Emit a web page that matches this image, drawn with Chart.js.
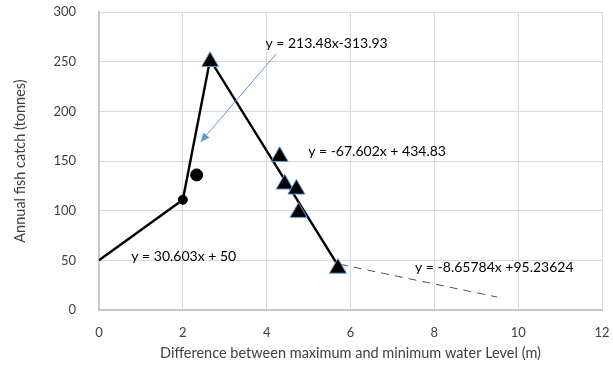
<!DOCTYPE html>
<html>
<head>
<meta charset="utf-8">
<script src="https://cdn.jsdelivr.net/npm/chart.js@4/dist/chart.umd.min.js"></script>
<style>
    html, body { margin: 0; padding: 0; background: #fff; }
    #wrap { width: 613px; height: 374px; }
</style>
</head>
<body>
<div id="wrap"><canvas id="chart" width="613" height="374"></canvas></div>
<script>
// values
const lineX = [0, 2, 2.65, 5.7];
const lineY = [50, 111, 252, 45];
const triX = [2.65, 4.31, 4.43, 4.71, 4.76, 5.7];
const triY = [250, 154.5, 126.7, 121.6, 98.2, 42];
const smallDotX = [2];
const smallDotY = [111];
const bigDotX = [2.33];
const bigDotY = [136];
const dashX = [5.75, 9.5];
const dashY = [46, 13];
const arrowX = [4.23, 2.42];
const arrowY = [258, 169];

const eqTexts = ['y = 213.48x-313.93', 'y = -67.602x + 434.83', 'y = 30.603x + 50', 'y = -8.65784x +95.23624'];
const eqX = [3.97, 4.99, 0.77, 7.54];
const eqY = [268, 160, 54, 43];

const xTicks = [0, 2, 4, 6, 8, 10, 12];
const yTicks = [0, 50, 100, 150, 200, 250, 300];

const FONT = 'Lato, "Open Sans", sans-serif';

function pts(xs, ys) {
    return xs.map((x, i) => ({ x: x, y: ys[i] }));
}

// tick padding would otherwise push the plot area in
function noPad(s) {
    s.paddingTop = 0;
    s.paddingBottom = 0;
    s.paddingLeft = 0;
    s.paddingRight = 0;
}

// arrow and equation labels, placed through the chart scales
const extras = {
    id: 'extras',
    afterDatasetsDraw(chart) {
        const ctx = chart.ctx;
        const xs = chart.scales.x, ys = chart.scales.y;
        const x1 = xs.getPixelForValue(arrowX[0]), y1 = ys.getPixelForValue(arrowY[0]);
        const x2 = xs.getPixelForValue(arrowX[1]), y2 = ys.getPixelForValue(arrowY[1]);
        const ang = Math.atan2(y2 - y1, x2 - x1);
        ctx.save();
        ctx.strokeStyle = '#5B9BD5';
        ctx.fillStyle = '#5B9BD5';
        ctx.lineWidth = 1;
        ctx.beginPath();
        ctx.moveTo(x1, y1);
        ctx.lineTo(x2 - 6 * Math.cos(ang), y2 - 6 * Math.sin(ang));
        ctx.stroke();
        ctx.beginPath();
        ctx.moveTo(x2, y2);
        ctx.lineTo(x2 - 10 * Math.cos(ang - 0.4), y2 - 10 * Math.sin(ang - 0.4));
        ctx.lineTo(x2 - 10 * Math.cos(ang + 0.4), y2 - 10 * Math.sin(ang + 0.4));
        ctx.closePath();
        ctx.fill();

        ctx.fillStyle = '#000';
        ctx.font = '14px ' + FONT;
        ctx.textAlign = 'left';
        ctx.textBaseline = 'middle';
        eqTexts.forEach((t, i) => {
            ctx.fillText(t, xs.getPixelForValue(eqX[i]), ys.getPixelForValue(eqY[i]));
        });
        ctx.restore();
    }
};

new Chart(document.getElementById('chart'), {
    type: 'scatter',
    data: {
        datasets: [
            {
                data: pts(triX, triY),
                pointStyle: 'triangle',
                pointRadius: 9.8,
                backgroundColor: '#000',
                borderColor: '#5B9BD5',
                borderWidth: 1,
                order: 1
            },
            {
                data: pts(bigDotX, bigDotY),
                pointRadius: 6,
                backgroundColor: '#000',
                borderColor: '#000',
                order: 1
            },
            {
                data: pts(smallDotX, smallDotY),
                pointRadius: 4.5,
                backgroundColor: '#000',
                borderColor: '#000',
                order: 1
            },
            {
                data: pts(lineX, lineY),
                showLine: true,
                borderColor: '#000',
                borderWidth: 2.4,
                pointRadius: 0,
                order: 3
            },
            {
                data: pts(dashX, dashY),
                showLine: true,
                borderColor: '#44546A',
                borderWidth: 1,
                borderDash: [8, 6],
                pointRadius: 0,
                order: 3
            }
        ]
    },
    options: {
        responsive: false,
        animation: false,
        layout: { autoPadding: false, padding: { left: 0, right: 11, top: 12, bottom: 0 } },
        plugins: {
            legend: { display: false },
            tooltip: { enabled: false }
        },
        scales: {
            x: {
                type: 'linear',
                min: 0,
                max: 12,
                afterBuildTicks: s => { s.ticks = xTicks.map(v => ({ value: v })); },
                afterFit: s => { s.height = 64; noPad(s); },
                ticks: { color: '#404040', font: { family: FONT, size: 13 }, padding: 15 },
                grid: { color: '#D9D9D9', drawTicks: false },
                border: { color: '#C8C8C8', width: 2 },
                title: {
                    display: true,
                    text: 'Difference between maximum and minimum water Level (m)',
                    color: '#404040',
                    font: { family: FONT, size: 14.5 },
                    padding: { top: 0, bottom: 12 }
                }
            },
            y: {
                type: 'linear',
                min: 0,
                max: 300,
                afterBuildTicks: s => { s.ticks = yTicks.map(v => ({ value: v })); },
                afterFit: s => { s.width = 99; noPad(s); },
                ticks: { color: '#404040', font: { family: FONT, size: 13 }, padding: 23 },
                grid: { color: '#D9D9D9', drawTicks: false },
                border: { color: '#C8C8C8', width: 2 },
                title: {
                    display: true,
                    text: 'Annual fish catch (tonnes)',
                    color: '#404040',
                    font: { family: FONT, size: 14.5 },
                    padding: { top: 12, bottom: 0 }
                }
            }
        }
    },
    plugins: [extras]
});
</script>
</body>
</html>
